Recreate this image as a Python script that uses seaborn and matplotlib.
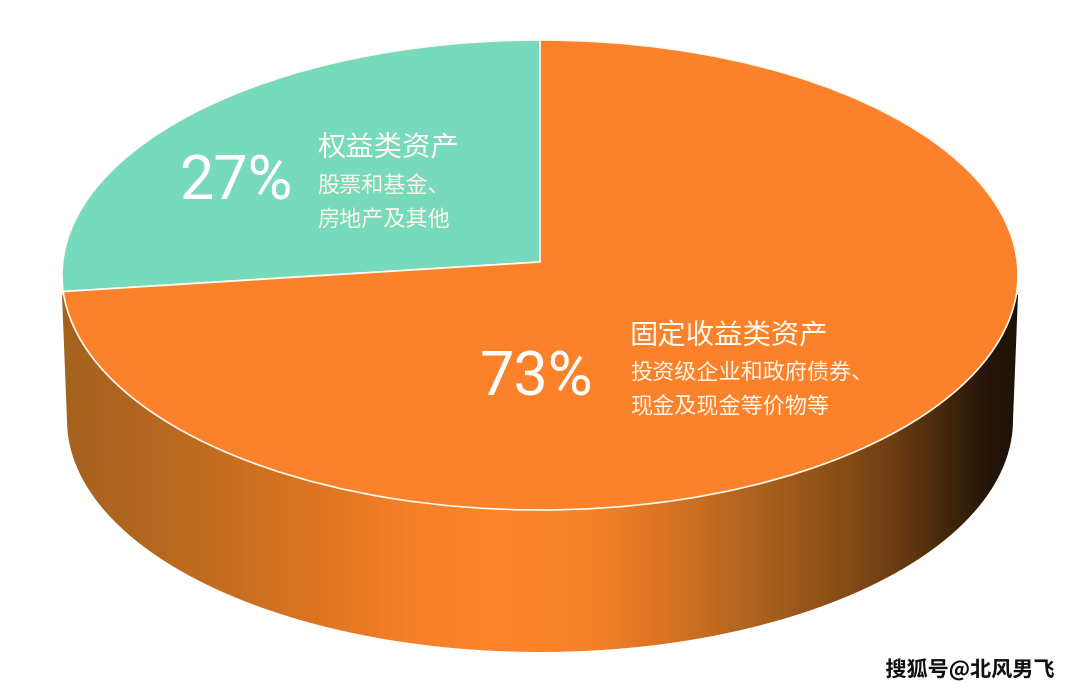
import numpy as np
import matplotlib
matplotlib.use("Agg")
import matplotlib.pyplot as plt
import matplotlib.patheffects as pe
from matplotlib.colors import LinearSegmentedColormap
from matplotlib.path import Path
from matplotlib.patches import PathPatch
from matplotlib.transforms import Transform
import seaborn as sns

sns.set_theme(style="white")
plt.rcParams["font.family"] = ["Noto Sans CJK SC", "DejaVu Sans"]

# data
categories = ["权益类资产", "固定收益类资产"]
shares = [27, 73]
details = [["股票和基金、", "房地产及其他"], ["投资级企业和政府债券、", "现金及现金等价物等"]]
watermark = "搜狐号@北风男飞"

palette = sns.color_palette(["#77DABC", "#FB822B"])

# layout (pixels)
CX, CY, RX, RY = 540, 275, 478, 235
APEX = 13
BOT_CY, BOT_RX, BOT_RY = 420, 473, 232
WALL_STOPS = [
    (0.00, "#A5621F"), (0.08, "#B2661F"), (0.25, "#D87421"), (0.36, "#F67F28"),
    (0.45, "#FD852B"), (0.55, "#F8822A"), (0.63, "#D97423"), (0.72, "#B0641F"),
    (0.80, "#8E5118"), (0.87, "#6D3E12"), (0.93, "#40250B"), (0.97, "#241509"),
    (1.00, "#1E1206"),
]


class Perspective(Transform):
    """Unit disc seen in perspective: its centre falls above the ellipse centre."""
    input_dims = 2
    output_dims = 2
    has_inverse = False
    is_separable = False

    def transform_non_affine(self, values):
        values = np.asarray(values, dtype=float)
        x, y = values[:, 0], values[:, 1]
        p = APEX / RY
        a = RX * np.sqrt(1 - (APEX / RY) ** 2)
        d = 1 + p * y
        return np.column_stack([CX + a * x / d, CY - (RY * y + APEX) / d])


fig = plt.figure(figsize=(10.8, 6.92), dpi=100, facecolor="white")
ax = fig.add_axes([0, 0, 1, 1])

# side wall
t = np.linspace(np.pi, 2 * np.pi, 240)
wall_x = CX + BOT_RX * np.cos(t)
wall_y = BOT_CY - BOT_RY * np.sin(t)
outline = np.column_stack([
    np.r_[wall_x, CX + RX, CX - RX, wall_x[0]],
    np.r_[wall_y, CY + 20, CY + 20, wall_y[0]],
])
clip = PathPatch(Path(outline), facecolor="none", edgecolor="none", transform=ax.transData)
ax.add_patch(clip)
cmap = LinearSegmentedColormap.from_list("wall", WALL_STOPS, N=512)
img = ax.imshow(
    np.linspace(0, 1, 512)[None, :], cmap=cmap, aspect="auto",
    extent=(CX - RX, CX + RX, BOT_CY + BOT_RY + 2, CY), zorder=1,
)
img.set_clip_path(clip)

# top disc
wedges, _ = ax.pie(
    shares, colors=palette, startangle=90, counterclock=True,
    wedgeprops=dict(edgecolor="#FFF9EE", linewidth=1.2, zorder=2),
)
persp = Perspective() + ax.transData
for w in wedges:
    w.set_transform(persp)
    w.set_zorder(2)

ax.set_aspect("auto")
ax.set_xlim(0, 1080)
ax.set_ylim(692, 0)
ax.set_axis_off()

# labels
pct_pos = [(236, 182), (536, 378)]
title_pos = [(317, 147), (630, 335)]
detail_pos = [[(317, 187), (317, 220)], [(630, 373), (630, 407)]]
for i, cat in enumerate(categories):
    ax.text(*pct_pos[i], f"{shares[i]}%", color="white", fontsize=44, family="Roboto",
            ha="center", va="center", zorder=3)
    ax.text(*title_pos[i], cat, color="#FFFBF2", fontsize=20.4, weight="medium",
            ha="left", va="center", zorder=3)
    for pos, line in zip(detail_pos[i], details[i]):
        ax.text(*pos, line, color="#FFF6E8", fontsize=15.9, ha="left", va="center", zorder=3)

ax.text(970, 670, watermark, color="#111111", fontsize=15.2, weight="bold", ha="center", va="center",
        zorder=3, path_effects=[pe.withStroke(linewidth=0.8, foreground="white")])

fig.savefig("out.png", dpi=100, facecolor="white")
